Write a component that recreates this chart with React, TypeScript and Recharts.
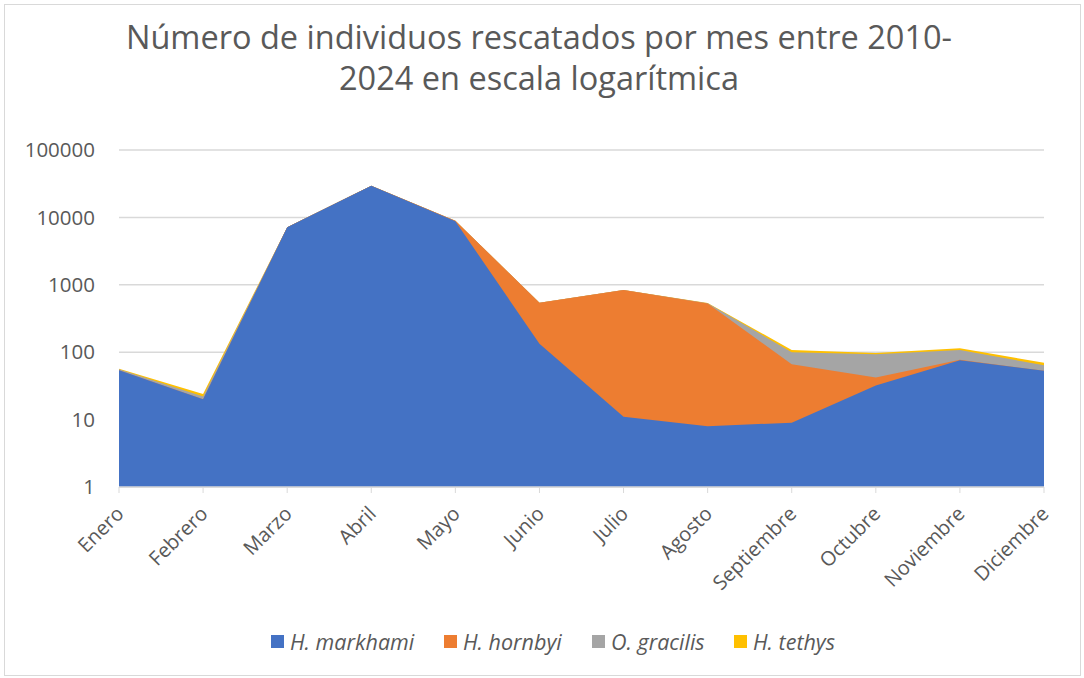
import { AreaChart, Area, XAxis, YAxis, CartesianGrid } from 'recharts';

const months = [
  'Enero', 'Febrero', 'Marzo', 'Abril', 'Mayo', 'Junio',
  'Julio', 'Agosto', 'Septiembre', 'Octubre', 'Noviembre', 'Diciembre',
];

// individuals rescued per month, per species
const markhami = [54, 20, 7130, 29500, 8800, 133, 11, 8, 9, 32, 76, 53];
const hornbyi = [0, 0, 0, 0, 130, 410, 827, 520, 57, 10, 1, 0];
const gracilis = [2, 2, 0, 0, 0, 0, 0, 5, 34, 51, 31, 11];
const tethys = [1, 2, 0, 0, 0, 0, 0, 4, 8, 4, 6, 6];

const yTicks = [1, 10, 100, 1000, 10000, 100000];

const SERIES = [
  { key: 'markhami', name: 'H. markhami', color: '#4472C4', left: 271 },
  { key: 'hornbyi', name: 'H. hornbyi', color: '#ED7D31', left: 444 },
  { key: 'gracilis', name: 'O. gracilis', color: '#A5A5A5', left: 592 },
  { key: 'tethys', name: 'H. tethys', color: '#FFC000', left: 734 },
];

// stacked totals: log axis can't stack from 0, so draw cumulative sums back to front
const data = months.map((month, i) => {
  const m = markhami[i];
  const h = m + hornbyi[i];
  const g = h + gracilis[i];
  const t = g + tethys[i];
  return { month, markhami: m, hornbyi: h, gracilis: g, tethys: t };
});

const FONT = '"Open Sans", sans-serif';
const TEXT = '#595959';
const GRID = '#d9d9d9';

function MonthTick({ x, y, payload }: any) {
  return (
    <text
      x={x + 6}
      y={y + 20}
      transform={`rotate(-45, ${x + 6}, ${y + 20})`}
      textAnchor="end"
      fill={TEXT}
      fontSize={20}
      fontFamily={FONT}
    >
      {payload.value}
    </text>
  );
}

export default function App() {
  return (
    <div
      style={{
        position: 'absolute',
        left: 0,
        top: 0,
        width: 1084,
        height: 678,
        background: '#fff',
        fontFamily: FONT,
      }}
    >
      <div
        style={{
          position: 'absolute',
          left: 4,
          top: 4,
          width: 1075,
          height: 670,
          border: `1px solid ${GRID}`,
        }}
      />
      <div
        style={{
          position: 'absolute',
          left: 0,
          top: 16,
          width: 1078,
          textAlign: 'center',
          color: TEXT,
          fontSize: 32.5,
          lineHeight: '41px',
        }}
      >
        <div>Número de individuos rescatados por mes entre 2010-</div>
        <div>2024 en escala logarítmica</div>
      </div>

      <div style={{ position: 'absolute', left: 0, top: 0 }}>
        <AreaChart
          width={1084}
          height={620}
          data={data}
          margin={{ top: 150, right: 40, left: 0, bottom: 0 }}
        >
          <CartesianGrid vertical={false} stroke={GRID} strokeWidth={1.5} />
          <XAxis
            dataKey="month"
            interval={0}
            height={133}
            axisLine={{ stroke: GRID, strokeWidth: 1.5 }}
            tickLine={{ stroke: GRID }}
            tickSize={6}
            tick={<MonthTick />}
          />
          <YAxis
            scale="log"
            domain={[1, 100000]}
            ticks={yTicks}
            allowDataOverflow
            width={119}
            axisLine={false}
            tickLine={false}
            tickSize={0}
            tickMargin={24}
            tick={{ fill: TEXT, fontSize: 20.5, fontFamily: FONT }}
            tickFormatter={(v: number) => String(v)}
          />
          {[...SERIES].reverse().map((s) => (
            <Area
              key={s.key}
              type="linear"
              dataKey={s.key}
              name={s.name}
              baseValue={1}
              fill={s.color}
              fillOpacity={1}
              stroke="none"
              isAnimationActive={false}
            />
          ))}
        </AreaChart>
      </div>

      {SERIES.map((s) => (
        <div
          key={s.key}
          style={{
            position: 'absolute',
            left: s.left,
            top: 627,
            display: 'flex',
            alignItems: 'center',
            color: TEXT,
            fontSize: 21.5,
            fontStyle: 'italic',
            whiteSpace: 'nowrap',
          }}
        >
          <span
            style={{
              display: 'inline-block',
              width: 13,
              height: 13,
              background: s.color,
              marginRight: 6,
            }}
          />
          <span>{s.name}</span>
        </div>
      ))}
    </div>
  );
}
